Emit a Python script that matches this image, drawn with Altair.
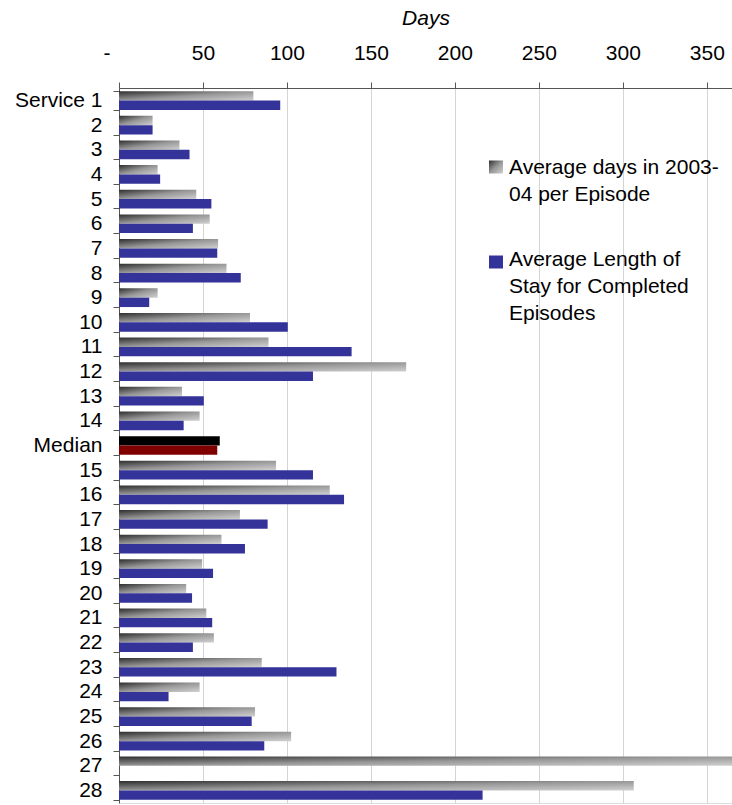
import altair as alt
import pandas as pd

categories = ["Service 1", "2", "3", "4", "5", "6", "7", "8", "9", "10", "11", "12", "13", "14",
              "Median", "15", "16", "17", "18", "19", "20", "21", "22", "23", "24", "25", "26", "27", "28"]
avg_days = [80, 20, 36, 23, 46, 54, 59, 64, 23, 78, 89, 171, 37.5, 48,
            60, 93.5, 125.5, 72, 61, 49.5, 40, 52, 56.5, 85, 48, 81, 102.5, 365, 306.5]
avg_los = [96, 20, 42, 24.5, 55, 44, 58.5, 72.5, 18, 100.5, 138.5, 115.5, 50.5, 38.5,
           58.5, 115.5, 134, 88.5, 75, 56, 43.5, 55.5, 44, 129.5, 29.5, 79, 86.5, None, 216.5]
series_names = ["Average days in 2003-04 per Episode",
                "Average Length of Stay for Completed Episodes"]
legend_lines = ["Average days in 2003-|04 per Episode",
                "Average Length of|Stay for Completed|Episodes"]
x_ticks = [0, 50, 100, 150, 200, 250, 300, 350]

rows = []
for c, a, b in zip(categories, avg_days, avg_los):
    rows.append({"category": c, "series": "days", "value": a})
    rows.append({"category": c, "series": "los", "value": b})
df = pd.DataFrame(rows)

FONT = "Liberation Sans"
gray_grad = alt.Gradient(
    gradient="linear",
    stops=[alt.GradientStop(offset=0, color="#2e2e2e"),
           alt.GradientStop(offset=0.5, color="#979797"),
           alt.GradientStop(offset=1, color="#d0d0d0")],
    x1=0, y1=0, x2=1, y2=1,
)

base = alt.Chart(df).encode(
    y=alt.Y("category:N", sort=categories,
            scale=alt.Scale(paddingInner=0.24, paddingOuter=0.13),
            axis=alt.Axis(orient="left", title=None, tickBand="extent", tickSize=6,
                          labelFontSize=21, labelFont=FONT, labelColor="#000000",
                          labelPadding=11, domainColor="#555555", tickColor="#555555",
                          grid=False)),
    yOffset=alt.YOffset("series:N", sort=["days", "los"],
                        scale=alt.Scale(domain=["days", "los"], paddingInner=0, paddingOuter=0)),
    x=alt.X("value:Q",
            scale=alt.Scale(domain=[0, 365], nice=False, zero=True),
            axis=alt.Axis(orient="top", values=x_ticks, title="Days",
                          titleFontStyle="italic", titleFontWeight="normal",
                          titleFontSize=21, titleFont=FONT, titleColor="#000000",
                          titlePadding=14,
                          labelExpr="datum.value == 0 ? '-' : datum.label",
                          labelOffset={"condition": {"test": "datum.value == 0", "value": -16}, "value": 0},
                          labelFontSize=21, labelFont=FONT, labelColor="#000000",
                          labelPadding=19, tickSize=6, tickColor="#555555",
                          domainColor="#555555", grid=True, gridColor="#d4d4d4")),
)

gray = base.transform_filter(
    "datum.series == 'days' && datum.category != 'Median'"
).mark_bar(color=gray_grad)

blue = base.transform_filter(
    "datum.series == 'los' && datum.category != 'Median'"
).mark_bar(color="#333399")

median = base.transform_filter("datum.category == 'Median'").mark_bar().encode(
    color=alt.Color("series:N", scale=alt.Scale(domain=["days", "los"], range=["#000000", "#800000"]),
                    legend=None)
)

leg1_text = alt.Chart(pd.DataFrame({"t": [legend_lines[0]]})).mark_text(
    align="left", baseline="alphabetic", lineBreak="|", lineHeight=27,
    fontSize=21, font=FONT, color="#000000"
).encode(text="t:N", x=alt.value(390), y=alt.value(85.5))

leg2_text = alt.Chart(pd.DataFrame({"t": [legend_lines[1]]})).mark_text(
    align="left", baseline="alphabetic", lineBreak="|", lineHeight=27,
    fontSize=21, font=FONT, color="#000000"
).encode(text="t:N", x=alt.value(390), y=alt.value(177.5))

leg1_sym = alt.Chart(pd.DataFrame({"s": [series_names[0]]})).mark_rect(color=gray_grad).encode(
    x=alt.value(370), x2=alt.value(384), y=alt.value(72.5), y2=alt.value(85.5))

leg2_sym = alt.Chart(pd.DataFrame({"s": [series_names[1]]})).mark_rect(color="#333399").encode(
    x=alt.value(370), x2=alt.value(384), y=alt.value(167.5), y2=alt.value(180.5))

chart = alt.layer(gray, blue, median, leg1_sym, leg2_sym, leg1_text, leg2_text).properties(
    width=613, height=715,
    padding={"left": 119, "top": 88, "right": 0, "bottom": 2},
    autosize=alt.AutoSizeParams(type="none"),
).configure_view(stroke=None).configure(background="#ffffff")

chart.save("out.html", embed_options={"renderer": "svg", "actions": False})
